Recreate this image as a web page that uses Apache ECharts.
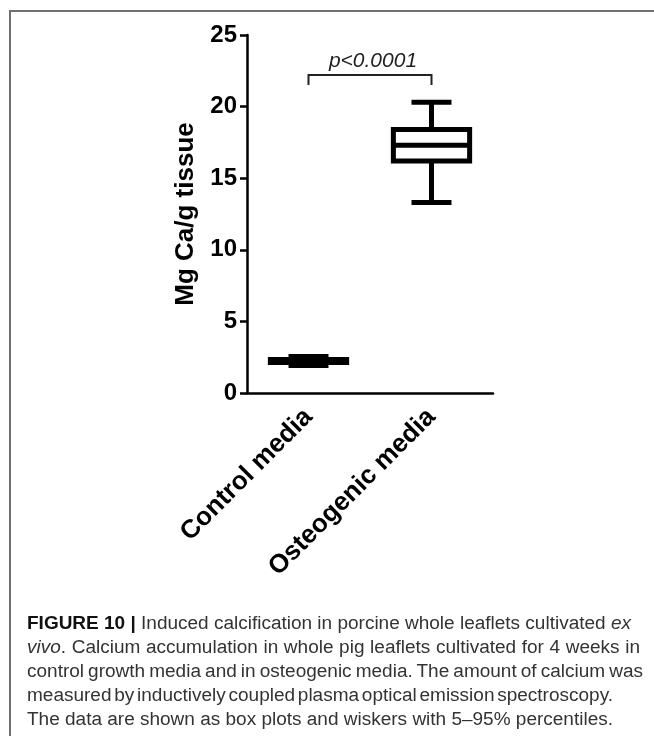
<!DOCTYPE html>
<html>
<head>
<meta charset="utf-8">
<script src="https://cdn.jsdelivr.net/npm/echarts@6/dist/echarts.min.js"></script>
<style>
  html, body { margin: 0; padding: 0; background: #fff; }
  #wrap { position: relative; width: 654px; height: 736px; overflow: hidden; }
  #main { position: absolute; left: 0; top: 0; width: 654px; height: 736px; }
  #frame { position: absolute; left: 9px; top: 10px; width: 660px; height: 740px;
    border-top: 2px solid #707070; border-left: 2px solid #707070; pointer-events: none; }
  #caption { position: absolute; left: 27px; top: 611px; font-family: "Liberation Sans", Arial, sans-serif;
    font-size: 18px; line-height: 24px; color: #333; white-space: nowrap; }
  #caption div { display: block; width: max-content; transform-origin: 0 50%; }
  #caption b { color: #111; }
</style>
</head>
<body>
<div id="wrap">
  <div id="main"></div>
  <div id="frame"></div>
  <div id="caption">
    <div><b>FIGURE 10 |</b> Induced calcification in porcine whole leaflets cultivated <i>ex</i></div>
    <div><i>vivo</i>. Calcium accumulation in whole pig leaflets cultivated for 4 weeks in</div>
    <div>control growth media and in osteogenic media. The amount of calcium was</div>
    <div>measured by inductively coupled plasma optical emission spectroscopy.</div>
    <div>The data are shown as box plots and wiskers with 5–95% percentiles.</div>
  </div>
</div>
<script>
var categories = ['Control media', 'Osteogenic media'];
var whiskerLow = [1.92, 13.3];
var q1 = [2.13, 16.2];
var median = [2.22, 17.3];
var q3 = [2.34, 18.4];
var whiskerHigh = [2.55, 20.3];
var yTicks = [0, 5, 10, 15, 20, 25];

// significance bracket between the two groups
var bracketTop = 22.2;
var bracketLeg = 21.5;
var pLabel = 'p<0.0001';

// caption: last line sets the condensing, lines 2-4 are justified
var captionWidths = [0, 613, 616, 586, 586];

var boxData = categories.map(function(c, i) {
	return [i, whiskerLow[i], q1[i], median[i], q3[i], whiskerHigh[i]];
});

var myChart = echarts.init(document.getElementById('main'));
var font = '"Liberation Sans", Arial, sans-serif';

function renderBox(params, api) {
	var i = api.value(0);
	var band = api.size([1, 0])[0];
	var bw = band * 0.62, cw = band * 0.325;
	var lo = api.coord([i, api.value(1)]);
	var b1 = api.coord([i, api.value(2)]);
	var md = api.coord([i, api.value(3)]);
	var b3 = api.coord([i, api.value(4)]);
	var hi = api.coord([i, api.value(5)]);
	var cx = lo[0];
	var st = { stroke: '#000', lineWidth: 5, fill: null };
	return {
		type: 'group',
		children: [
			{ type: 'line', shape: { x1: cx, y1: hi[1], x2: cx, y2: b3[1] }, style: st },
			{ type: 'line', shape: { x1: cx, y1: b1[1], x2: cx, y2: lo[1] }, style: st },
			{ type: 'line', shape: { x1: cx - cw / 2, y1: hi[1], x2: cx + cw / 2, y2: hi[1] }, style: st },
			{ type: 'line', shape: { x1: cx - cw / 2, y1: lo[1], x2: cx + cw / 2, y2: lo[1] }, style: st },
			{ type: 'rect', shape: { x: cx - bw / 2, y: b3[1], width: bw, height: b1[1] - b3[1] },
				style: { stroke: '#000', lineWidth: 5, fill: '#fff' } },
			{ type: 'line', shape: { x1: cx - bw / 2, y1: md[1], x2: cx + bw / 2, y2: md[1] }, style: st }
		]
	};
}

function renderBracket(params, api) {
	var a = api.coord([0, bracketLeg]);
	var b = api.coord([0, bracketTop]);
	var c = api.coord([1, bracketTop]);
	var d = api.coord([1, bracketLeg]);
	return {
		type: 'group',
		children: [
			{ type: 'polyline', shape: { points: [a, b, c, d] },
				style: { stroke: '#222', lineWidth: 2, fill: null } },
			{ type: 'text', x: (b[0] + c[0]) / 2 + 3, y: b[1] - 3,
				style: { text: pLabel, fill: '#222', font: 'italic 21px ' + font,
					align: 'center', verticalAlign: 'bottom' } }
		]
	};
}

option = {
	animation: false,
	grid: { left: 247, right: 161, top: 35, bottom: 343 },
	xAxis: {
		type: 'category',
		data: categories,
		axisLine: { lineStyle: { color: '#000', width: 2.5 } },
		axisTick: { alignWithLabel: true, length: 8, lineStyle: { color: '#000', width: 2.5 } },
		axisLabel: { rotate: 45, margin: 20, color: '#000', fontSize: 26, fontWeight: 'bold', fontFamily: font }
	},
	yAxis: {
		type: 'value',
		min: yTicks[0],
		max: yTicks[yTicks.length - 1],
		interval: yTicks[1] - yTicks[0],
		name: 'Mg Ca/g tissue',
		nameLocation: 'middle',
		nameGap: 48,
		nameTextStyle: { color: '#000', fontSize: 26, fontWeight: 'bold', fontFamily: font },
		axisLine: { show: true, lineStyle: { color: '#000', width: 2.5 } },
		axisTick: { show: true, length: 7, lineStyle: { color: '#000', width: 2.5 } },
		axisLabel: { margin: 10, color: '#000', fontSize: 24, fontWeight: 'bold', fontFamily: font },
		splitLine: { show: false }
	},
	series: [
		{
			type: 'custom',
			name: 'box',
			renderItem: renderBox,
			encode: { x: 0, y: [1, 2, 3, 4, 5] },
			data: boxData,
			z: 3
		},
		{
			type: 'custom',
			name: 'bracket',
			renderItem: renderBracket,
			encode: { x: 0, y: 1 },
			data: [[0, bracketTop]],
			z: 4
		}
	]
};
myChart.setOption(option, true);

// fit the caption to the figure's typesetting
var lines = document.querySelectorAll('#caption div');
var last = lines.length - 1;
var scale = captionWidths[last] / lines[last].getBoundingClientRect().width;
lines.forEach(function(el, i) {
	var nat = el.getBoundingClientRect().width;
	var spaces = (el.textContent.match(/ /g) || []).length;
	if (captionWidths[i] && i !== last) {
		el.style.wordSpacing = ((captionWidths[i] / scale - nat) / spaces) + 'px';
	}
	el.style.transform = 'scaleX(' + scale + ')';
});
</script>
</body>
</html>
